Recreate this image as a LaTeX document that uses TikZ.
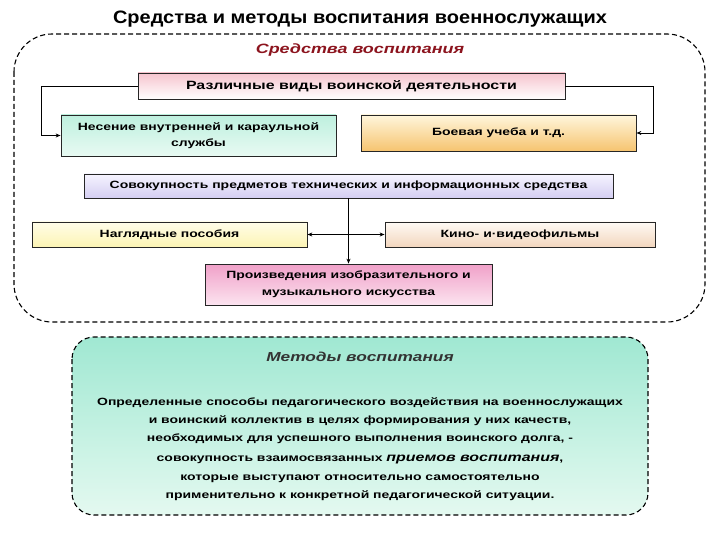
\documentclass[tikz,border=0pt]{standalone}
\usepackage{fontspec}
\setmainfont{Liberation Sans}[FakeStretch=1.33]
\newfontfamily\titlefont{Liberation Sans}[FakeStretch=1.11]
\usetikzlibrary{arrows.meta}

\definecolor{titlered}{RGB}{140,20,30}
\definecolor{pinkA}{RGB}{246,196,206}
\definecolor{mintA}{RGB}{190,240,222}
\definecolor{mintB}{RGB}{232,250,243}
\definecolor{orangeA}{RGB}{255,246,220}
\definecolor{orangeB}{RGB}{246,196,112}
\definecolor{lavA}{RGB}{246,244,255}
\definecolor{lavB}{RGB}{212,206,242}
\definecolor{yelA}{RGB}{255,253,232}
\definecolor{yelB}{RGB}{252,244,180}
\definecolor{peachA}{RGB}{255,250,244}
\definecolor{peachB}{RGB}{242,214,190}
\definecolor{magA}{RGB}{240,160,200}
\definecolor{magB}{RGB}{252,228,240}
\definecolor{aquaA}{RGB}{160,232,210}
\definecolor{aquaB}{RGB}{228,249,240}

\begin{document}
\begin{tikzpicture}
  [x=1pt,y=-1pt,
   every node/.style={font=\fontsize{10.5}{16.5}\selectfont\bfseries,align=center,inner sep=0pt},
   box/.style={draw=black!85,line width=0.8pt},
   link/.style={line width=0.9pt,-{Stealth[length=5pt,width=4pt]}}]

  \useasboundingbox (0,0) rectangle (720,540);

  % frames
  \draw[dashed,line width=1.1pt,rounded corners=38pt,dash pattern=on 5pt off 3pt] (14,34) rectangle (705,322);
  \draw[dashed,line width=1.1pt,rounded corners=22pt,dash pattern=on 5pt off 3pt,top color=aquaA,bottom color=aquaB] (72,337) rectangle (648,515);

  \node[font=\titlefont\fontsize{18}{20}\selectfont\bfseries] (title) at (360,19) {Средства и методы воспитания военнослужащих};
  \node[font=\fontsize{13.5}{16}\selectfont\bfseries\itshape,text=titlered] (means) at (360,50) {Средства воспитания};

  \node[box,minimum width=427pt,minimum height=26pt,top color=pinkA,bottom color=white,font=\fontsize{12}{16}\selectfont\bfseries] (kinds) at (351.5,86) {Различные виды воинской деятельности};
  \node[box,minimum width=275pt,minimum height=41pt,top color=mintA,bottom color=mintB] (duty) at (198.5,135.5) {Несение внутренней и караульной\\службы};
  \node[box,minimum width=275pt,minimum height=36pt,top color=orangeA,bottom color=orangeB] (combat) at (498.5,133) {Боевая учеба и т.д.};
  \node[box,minimum width=529pt,minimum height=24pt,top color=lavA,bottom color=lavB] (tech) at (348.5,186) {Совокупность предметов технических и информационных средства};
  \node[box,minimum width=275pt,minimum height=25pt,top color=yelA,bottom color=yelB] (aids) at (169.5,234.5) {Наглядные пособия};
  \node[box,minimum width=270pt,minimum height=25pt,top color=peachA,bottom color=peachB] (films) at (520,234.5) {Кино- и·видеофильмы};
  \node[box,minimum width=287pt,minimum height=41pt,top color=magA,bottom color=magB,font=\fontsize{10.5}{17}\selectfont\bfseries] (art) at (348.5,284.5) {Произведения изобразительного и\\музыкального искусства};

  \draw[link] (kinds.west) -- ++(-96,0) |- (duty.west);
  \draw[link] (kinds.east) -- ++(88,0) |- (combat.east);
  \draw[link] (tech.south) -- (art.north);
  \draw[link,{Stealth[length=5pt,width=4pt]}-{Stealth[length=5pt,width=4pt]}] (aids.east) -- (films.west);

  \node[font=\fontsize{13}{16}\selectfont\bfseries\itshape,text=black!80] (methods) at (360,357) {Методы воспитания};
  \node[font=\fontsize{10.5}{18.3}\selectfont\bfseries] (def) at (360,449)
    {Определенные способы педагогического воздействия на военнослужащих\\
     и воинский коллектив в целях формирования у них качеств,\\
     необходимых для успешного выполнения воинского долга, -\\[2pt]
     совокупность взаимосвязанных {\fontsize{12}{18}\selectfont\itshape приемов воспитания},\\
     которые выступают относительно самостоятельно\\
     применительно к конкретной педагогической ситуации.};

\end{tikzpicture}
\end{document}
